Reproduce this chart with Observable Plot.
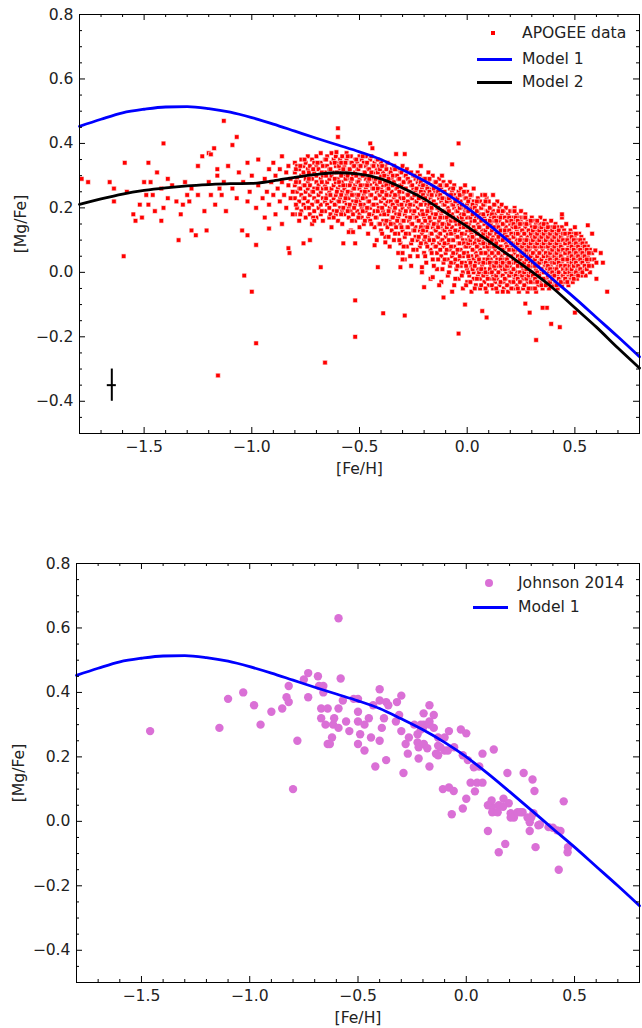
<!DOCTYPE html>
<html><head><meta charset="utf-8">
<script src="https://cdn.jsdelivr.net/npm/d3@7"></script>
<script src="https://cdn.jsdelivr.net/npm/@observablehq/plot@0.6"></script>
<style>
body{margin:0;background:#fff;font-family:"DejaVu Sans",sans-serif;}
#wrap{position:relative;width:642px;height:1028px;}
#wrap svg{display:block;}
.lt{position:absolute;font-size:15.6px;line-height:18px;color:#222;white-space:nowrap;}
.ll{position:absolute;height:3px;}
</style></head><body><div id="wrap"></div>
<script>
// ---------- tick values ----------
const xMajor = [-1.5, -1.0, -0.5, 0.0, 0.5];
const xMinor = [-1.7,-1.6,-1.4,-1.3,-1.2,-1.1,-0.9,-0.8,-0.7,-0.6,-0.4,-0.3,-0.2,-0.1,0.1,0.2,0.3,0.4,0.6,0.7];
const yMajor = [-0.4, -0.2, 0.0, 0.2, 0.4, 0.6, 0.8];
const yMinor = [-0.45,-0.35,-0.3,-0.25,-0.15,-0.1,-0.05,0.05,0.1,0.15,0.25,0.3,0.35,0.45,0.5,0.55,0.65,0.7,0.75];

// ---------- model curves ----------
const modelFeH   = [-1.8,-1.7,-1.6,-1.5,-1.4,-1.3,-1.2,-1.1,-1.0,-0.9,-0.8,-0.7,-0.6,-0.5,-0.4,-0.3,-0.2,-0.1,0.0,0.1,0.2,0.3,0.4,0.5,0.6,0.7,0.8];
const model1MgFe = [0.453,0.475,0.495,0.506,0.513,0.514,0.508,0.497,0.480,0.460,0.438,0.416,0.395,0.374,0.350,0.318,0.284,0.245,0.200,0.148,0.092,0.035,-0.023,-0.080,-0.140,-0.200,-0.262];
const model2MgFe = [0.211,0.228,0.243,0.254,0.262,0.268,0.272,0.275,0.276,0.284,0.295,0.304,0.309,0.305,0.290,0.262,0.228,0.185,0.142,0.097,0.050,0.002,-0.050,-0.110,-0.170,-0.235,-0.297];

// ---------- typical error bar ----------
const errFeH = -1.65, errMgFe = -0.35, errDFeH = 0.021, errDMgFe = 0.05;

// ---------- APOGEE data: dense cloud, per [Fe/H] column (hundredths): [x, y1, y2, ...] ----------
const apogeeColumns = [
[-80,18,23,27,31,34],[-79,20,25,29,33],[-78,16,22,26,28,32],[-77,19,24,30,35],[-76,21,23,27,31,33],
[-75,17,20,25,29,34],[-74,22,26,28,32,36],[-73,18,24,27,30,33],[-72,15,21,25,29,35],[-71,19,23,26,31,34],
[-70,17,22,28,30,33,36],[-69,20,24,27,32],[-68,18,21,25,29,34,37],[-67,16,23,26,30,33],[-66,19,22,27,31,35],
[-65,21,24,28,33,36],[-64,17,20,25,29,32],[-63,14,22,26,30,34,37],[-62,19,23,27,31,35],[-61,18,21,24,28,33,36],
[-60,16,22,26,29,34],[-59,20,23,27,32,35],[-58,15,19,25,28,31,36],[-57,18,22,26,30,33],[-56,21,24,27,31,35,37],
[-55,17,20,23,29,32],[-54,13,19,25,28,34,36],[-53,18,22,26,30,33],[-52,16,21,24,27,31,35],[-51,19,23,28,32,34],
[-50,14,18,22,26,29,33,36],[-49,17,20,25,30,35],[-48,15,21,24,27,31,34],[-47,19,23,26,29,33,36],[-46,12,17,22,25,28,32],
[-45,16,20,24,27,30,35],[-44,18,21,26,29,33],[-43,14,19,23,28,31,34],[-42,10,17,21,25,27,32,35],[-41,15,20,24,29,33],
[-40,13,18,22,26,30,34],[-39,16,19,23,27,31],[-38,11,15,21,25,28,33],[-37,14,18,22,26,30,34],[-36,8,16,20,24,27,31],
[-35,13,17,21,25,29,32],[-34,10,15,19,23,28,33],[-33,14,18,22,26,30],[-32,6,12,17,21,24,29,32],[-31,9,15,19,23,27,31],
[-30,13,16,20,25,28,33],[-29,4,11,18,22,26,30],[-28,8,14,17,21,24,29,32],[-27,12,16,20,25,28],[-26,2,9,15,19,23,27,31],
[-25,7,13,18,21,26,30],[-24,11,14,17,22,25,29],[-23,5,10,16,20,24,28,31],[-22,8,13,18,21,27,30],[-21,0,12,15,19,23,26],
[-20,6,10,14,17,22,25,29],[-19,3,9,13,18,21,27],[-18,11,15,20,24,28,31],[-17,-2,7,12,16,19,23,26],[-16,4,9,14,18,22,27,30],
[-15,8,13,17,21,25,28],[-14,1,6,11,15,20,24],[-13,9,12,16,19,23,27,29],[-12,-3,5,10,14,18,22,26],[-11,3,8,13,17,21,25,28],
[-10,6,11,15,19,23,27],[-9,-1,4,9,12,16,20,24],[-8,2,7,13,17,22,26,28],[-7,5,10,14,18,21,25],[-6,-4,3,8,12,16,20,24,27],
[-5,1,6,11,15,19,23],[-4,-2,4,9,13,17,21,25],[-3,2,7,11,14,18,22,26],[-2,-5,0,5,10,16,20,24],[-1,3,8,12,15,19,23,27],
[0,-3,1,6,10,13,17,21,25],[1,-1,4,8,11,15,19,23],[2,-6,2,5,9,12,16,20,24],[3,-2,0,4,7,11,14,18,22,26],[4,-4,3,6,10,13,17,21],
[5,-1,1,5,8,12,15,19,23],[6,-5,-2,3,7,9,14,18,22],[7,0,2,6,10,13,16,20,24],[8,-3,1,4,8,11,15,17,21],[9,-6,-1,3,6,9,12,16,19,23],
[10,-4,0,5,7,10,14,18,22],[11,-2,2,4,8,12,15,17,20],[12,-5,-1,3,6,9,11,16,19,24],[13,-3,1,5,7,10,13,18,21],[14,-6,-2,2,4,8,12,15,17,22],
[15,-4,0,3,6,10,14,16,20],[16,-1,1,5,8,11,13,18,21],[17,-5,-3,2,4,7,10,15,19],[18,-2,0,3,6,9,12,14,17,20],[19,-6,-4,1,5,8,11,16,18],
[20,-3,0,2,7,10,13,15,19],[21,-1,3,5,8,12,14,17],[22,-5,-2,1,4,6,9,11,16,20],[23,-4,0,3,7,10,13,15,18],[24,-6,-1,2,5,8,12,14,17],
[25,-3,0,4,6,9,11,16,19],[26,-5,-2,1,3,7,10,13,15],[27,-4,-1,2,5,8,12,14,18],[28,-6,-3,0,4,6,9,11,16],[29,-2,1,3,7,10,13,15],
[30,-5,-1,2,5,8,11,14,17],[31,-3,0,4,6,9,12,16],[32,-6,-2,1,3,7,10,13,15],[33,-4,-1,2,5,8,11,14],[34,-3,0,4,6,9,12,15,17],
[35,-5,-2,1,3,7,10,13],[36,-4,0,2,5,8,11,14,16],[37,-2,1,4,6,9,12,15],[38,-5,-3,0,3,7,10,13],[39,-1,2,5,8,11,14,16],
[40,-4,-2,1,4,6,9,12],[41,-3,0,3,7,10,13,15],[42,-5,-1,2,5,8,11,14],[43,-2,0,4,6,9,12],[44,-4,-1,3,5,8,11,14,17],
[45,-3,1,4,7,10,13],[46,-2,0,2,6,9,12,15],[47,-4,-1,3,5,8,11],[48,-2,1,4,7,10,13],[49,-3,0,2,6,9,12],
[50,-1,3,5,8,11,14],[51,-2,1,4,7,10],[52,0,2,6,9,12],[53,-1,3,5,8,11],[54,1,4,7,10],
[55,-1,2,6,9],[56,3,5,8],[57,0,4,7],[58,2,6],[59,4],[60,3]
];
// second pass of the cloud, stars lying between the columns above
const apogeeColumnsB = [
[-79.5,21,28,32],[-77.5,18,26,33],[-75.5,23,27,35],[-73.5,20,29,31],[-71.5,17,25,32],[-69.5,22,26,34],[-67.5,19,28,31],[-65.5,23,26,30,35],[-63.5,18,24,32],[-61.5,21,29,34],
[-60.5,19,25,31],[-59.5,22,28,33],[-58.5,18,24,30,34],[-57.5,20,27,32],[-56.5,23,29,34],[-55.5,19,25,30,36],[-54.5,21,27,32],[-53.5,16,24,29,34],[-52.5,20,26,33],[-51.5,22,30,35],
[-50.5,17,24,28,32],[-49.5,21,27,33],[-48.5,19,23,30,36],[-47.5,16,25,31],[-46.5,20,27,34],[-45.5,18,22,29,32],[-44.5,15,24,31,36],[-43.5,21,26,33],[-42.5,17,23,29],[-41.5,19,26,31,35],
[-40.5,15,24,28,32],[-39.5,12,20,25,33],[-38.5,18,23,30],[-37.5,16,24,27,32],[-36.5,11,19,26,29],[-35.5,15,22,31],[-34.5,17,21,27,30],[-33.5,12,20,24,32],[-32.5,16,22,26,30],[-31.5,10,18,25,29],
[-30.5,14,21,27,31],[-29.5,8,16,23,28],[-28.5,12,19,26,30],[-27.5,14,22,24,29],[-26.5,5,17,21,28],[-25.5,10,15,23,27],[-24.5,13,19,24,30],[-23.5,7,17,22,26],[-22.5,11,16,23,29],[-21.5,9,14,21,25,28],
[-20.5,13,18,24,27],[-19.5,5,11,16,23,29],[-18.5,8,14,19,26],[-17.5,10,17,21,25,29],[-16.5,6,12,20,24],[-15.5,2,10,15,22,26],[-14.5,8,13,18,21,28],[-13.5,4,11,14,20,25],[-12.5,7,12,17,24,27],[-11.5,1,10,15,19,23],
[-10.5,4,9,13,21,25],[-9.5,7,14,17,22,27],[-8.5,0,10,15,19,23],[-7.5,3,8,12,16,24],[-6.5,6,10,17,21,26],[-5.5,-2,4,13,16,22],[-4.5,2,7,11,19,23],[-3.5,5,9,15,20,24],[-2.5,-1,3,12,17,21],[-1.5,6,9,14,18,25],
[-0.5,-4,2,8,15,20,23],[0.5,0,5,9,14,19,22],[1.5,-3,3,10,13,17,24],[2.5,1,7,11,18,21],[3.5,-5,2,9,16,20],[4.5,-2,5,8,12,19,22],[5.5,0,4,10,14,17],[6.5,-4,1,6,11,16,20],[7.5,-1,3,9,12,18,21],[8.5,-5,0,6,13,16,22],
[9.5,-2,4,8,11,14,19],[10.5,1,3,9,12,16,20],[11.5,-4,0,6,10,13,18],[12.5,-2,2,8,14,17,21],[13.5,-5,-1,3,9,12,16],[14.5,0,6,11,14,19],[15.5,-3,2,4,8,13,17],[16.5,-6,-1,3,7,10,15,19],[17.5,-2,1,6,12,13,17],[18.5,-4,2,4,8,11,16],
[19.5,-1,3,7,10,13,17],[20.5,-5,0,5,9,12,16],[21.5,-3,1,4,7,11,15,19],[22.5,-1,3,8,12,14,17],[23.5,-5,-2,2,5,9,12,16],[24.5,-3,0,4,7,10,15],[25.5,-1,2,5,8,13,17],[26.5,-4,0,3,6,9,12,17],[27.5,-2,1,4,7,10,15],[28.5,-5,-1,2,5,8,13],
[29.5,-3,0,5,9,12,16],[30.5,-1,3,6,10,13],[31.5,-5,-2,2,4,8,11,14],[32.5,-3,0,5,9,12,16],[33.5,-1,3,6,10,13],[34.5,-4,1,4,8,11,14],[35.5,-2,0,5,9,12,15],[36.5,-4,3,6,10,13],[37.5,-1,2,5,8,11,14],[38.5,-3,1,4,6,9,12],
[39.5,-2,0,3,7,10,13],[40.5,-1,3,5,8,11,14],[41.5,-4,1,4,6,9,12],[42.5,-2,0,3,7,10,13],[43.5,-3,2,5,8,11],[44.5,-1,1,4,7,10,12],[45.5,-2,0,2,6,9,12],[46.5,-3,1,4,7,10],[47.5,0,2,6,9,12],[48.5,-1,1,3,5,8,11],
[49.5,-2,2,4,7,10],[50.5,0,3,6,9,12],[51.5,-1,2,5,8],[52.5,1,4,7,10],[53.5,0,3,6,9],[54.5,2,5,8],[55.5,1,4,7],[56.5,2,6]
];

// ---------- APOGEE data: sparse stars and outliers [FeH, MgFe] ----------
const apogeeSparse = [
[-1.79,0.29],[-1.76,0.28],[-1.66,0.28],[-1.64,0.26],[-1.59,0.34],[-1.58,0.25],[-1.64,0.22],[-1.595,0.05],[-1.55,0.18],[-1.54,0.16],
[-1.51,0.17],[-1.52,0.21],[-1.50,0.28],[-1.48,0.34],[-1.49,0.24],[-1.47,0.28],[-1.46,0.24],[-1.44,0.31],[-1.48,0.21],[-1.45,0.19],
[-1.42,0.16],[-1.41,0.40],[-1.41,0.20],[-1.42,0.26],[-1.39,0.23],[-1.39,0.29],[-1.37,0.27],[-1.34,0.10],[-1.35,0.22],[-1.33,0.18],
[-1.32,0.21],[-1.31,0.28],[-1.30,0.24],[-1.28,0.13],[-1.26,0.115],[-1.29,0.22],[-1.28,0.26],[-1.25,0.33],[-1.25,0.24],[-1.23,0.36],
[-1.22,0.19],[-1.21,0.13],[-1.20,0.37],[-1.20,0.28],[-1.19,0.24],[-1.175,0.385],[-1.19,0.366],[-1.17,0.21],[-1.16,0.30],[-1.16,0.32],
[-1.15,0.26],[-1.14,0.24],[-1.13,0.47],[-1.13,0.28],[-1.12,0.19],[-1.11,0.33],[-1.09,0.395],[-1.09,0.26],[-1.07,0.42],[-1.07,0.23],
[-1.06,0.31],[-1.045,0.13],[-1.04,0.28],[-1.02,0.115],[-1.02,0.22],[-1.02,0.34],[-1.01,0.25],[-0.98,0.085],[-1.0,0.30],[-0.98,0.20],
[-0.97,0.27],[-0.97,0.35],[-0.95,0.23],[-0.94,0.29],[-0.94,0.17],[-0.93,0.25],[-0.92,0.32],[-0.92,0.21],[-0.92,0.136],[-0.91,0.28],
[-0.90,0.34],[-0.90,0.24],[-0.89,0.30],[-0.89,0.18],[-0.88,0.26],[-0.87,0.32],[-0.87,0.22],[-0.86,0.36],[-0.86,0.28],[-0.86,0.15],
[-0.85,0.24],[-0.84,0.31],[-0.84,0.20],[-0.83,0.27],[-0.83,0.33],[-0.82,0.23],[-0.82,0.29],[-0.81,0.18],[-0.81,0.25],[-0.83,0.075],
[-0.825,0.06],[-0.76,0.09],[-0.73,0.10],[-0.71,0.16],[-0.62,0.17],
[-1.035,-0.01],[-1.0,-0.06],[-0.98,-0.22],[-1.157,-0.32],[-0.68,0.016],[-0.66,-0.28],[-0.52,-0.087],[-0.52,-0.20],[-0.415,0.016],[-0.39,-0.127],
[-0.29,-0.134],[-0.04,-0.19],[0.09,-0.14],[0.07,-0.12],[-0.01,-0.10],[0.32,-0.21],[0.39,-0.16],[0.43,-0.17],[0.50,-0.125],[0.65,-0.06],
[0.63,0.03],[0.60,-0.02],[0.29,-0.125],[0.37,-0.11],[0.27,-0.097],[0.35,-0.11],[0.595,0.068],[0.56,0.146],[0.44,0.18],[0.58,0.12],[0.62,0.06],
[-0.575,0.09],[-0.52,0.09],[-0.55,0.125],[-0.53,0.125],[-0.43,0.084],[-0.38,0.093],[-0.30,0.06],[-0.30,0.04],[-0.31,0.016],[-0.25,0.07],
[-0.21,0.016],[-0.20,-0.046],[-0.16,-0.015],[-0.11,-0.078],[-0.13,-0.04],[-0.07,-0.06],
[-0.60,0.447],[-0.60,0.42],[-0.607,0.373],[-0.04,0.40],[-0.07,0.335],[-0.45,0.40],[-0.44,0.385],[-0.33,0.367],[-0.29,0.367],[-0.215,0.33],
[-0.117,0.30],[0.083,0.24],[0.22,0.19],[0.27,0.17]
];

// ---------- Johnson 2014 [FeH, MgFe] ----------
const johnson2014 = [
[-1.46,0.28],[-1.14,0.29],[-1.10,0.38],[-1.03,0.40],[-0.98,0.36],[-0.95,0.30],[-0.90,0.34],[-0.85,0.35],[-0.83,0.385],[-0.82,0.37],
[-0.82,0.42],[-0.78,0.25],[-0.80,0.10],[-0.75,0.44],[-0.73,0.46],[-0.73,0.385],[-0.685,0.45],[-0.68,0.42],[-0.66,0.42],[-0.66,0.40],
[-0.67,0.35],[-0.64,0.35],[-0.67,0.32],[-0.65,0.30],[-0.615,0.30],[-0.61,0.32],[-0.62,0.26],[-0.64,0.24],[-0.63,0.24],
[-0.59,0.63],[-0.58,0.443],[-0.57,0.375],[-0.59,0.35],[-0.59,0.29],[-0.555,0.31],[-0.54,0.28],[-0.52,0.38],[-0.50,0.38],[-0.50,0.34],
[-0.50,0.31],[-0.49,0.27],[-0.50,0.24],[-0.47,0.22],[-0.47,0.30],[-0.44,0.26],[-0.43,0.36],[-0.42,0.17],[-0.40,0.41],[-0.40,0.375],
[-0.40,0.25],[-0.39,0.29],[-0.38,0.32],[-0.37,0.37],[-0.36,0.36],[-0.37,0.19],[-0.32,0.37],[-0.30,0.39],[-0.325,0.31],[-0.30,0.28],
[-0.29,0.15],[-0.27,0.21],[-0.265,0.26],[-0.24,0.30],[-0.225,0.27],[-0.225,0.245],[-0.22,0.23],[-0.196,0.24],[-0.18,0.227],[-0.21,0.30],
[-0.196,0.30],[-0.17,0.30],[-0.15,0.33],[-0.17,0.36],[-0.197,0.335],[-0.15,0.29],[-0.17,0.31],[-0.22,0.195],[-0.17,0.17],[-0.13,0.235],
[-0.13,0.26],[-0.10,0.26],[-0.10,0.22],[-0.085,0.22],[-0.08,0.28],[-0.13,0.205],[-0.14,0.21],[-0.12,0.23],[-0.056,0.23],[-0.025,0.285],
[0.0,0.273],[-0.016,0.205],[0.007,0.19],[0.035,0.168],[0.06,0.17],[0.075,0.21],[0.127,0.223],
[0.02,0.12],[0.05,0.12],[0.075,0.12],[-0.108,0.10],[-0.08,0.105],[-0.058,0.094],[-0.067,0.022],[-0.016,0.04],[0.0,0.07],[0.04,0.093],
[0.19,0.15],[0.265,0.15],[0.306,0.13],[0.315,0.094],[0.45,0.062],[0.10,-0.03],[0.18,-0.07],[0.117,0.065],[0.12,0.045],[0.15,0.05],
[0.172,0.07],[0.196,0.056],[0.205,0.025],[0.22,0.012],[0.237,0.028],[0.26,0.028],[0.283,0.012],[0.293,-0.003],[0.31,0.025],[0.333,-0.012],
[0.293,-0.03],[0.38,-0.018],[0.40,-0.02],[0.435,-0.03],[0.32,-0.08],[0.10,0.05],[0.12,0.028],[0.145,0.028],[0.17,0.045],[0.205,0.012],
[0.30,0.012],[0.15,-0.096],[0.42,-0.028],[0.468,-0.096],[0.47,-0.08],[0.427,-0.15],[0.34,-0.01],[0.25,0.028],[-0.20,0.29],[-0.21,0.285],
[-0.28,0.24],[-0.31,0.33],[-0.45,0.32]
];

// ---------- build tables ----------
const apogee = [];
for (const [x, ...ys] of apogeeColumns) for (const y of ys) apogee.push({feh: x / 100, mgfe: y / 100});
for (const [x, ...ys] of apogeeColumnsB) for (const y of ys) apogee.push({feh: x / 100, mgfe: y / 100});
for (const [x, y] of apogeeSparse) apogee.push({feh: x, mgfe: y});
const johnson = johnson2014.map(([x, y]) => ({feh: x, mgfe: y}));
const model1 = modelFeH.map((x, i) => ({feh: x, mgfe: model1MgFe[i]}));
const model2 = modelFeH.map((x, i) => ({feh: x, mgfe: model2MgFe[i]}));
const err = [{feh: errFeH, mgfe: errMgFe, dx: errDFeH, dy: errDMgFe}];

const W = 642;
const FS = 15.6;
const fmt = d3.format(".1f");

function frameMarks(pw, ph, ylabDx) {
  const k = "#000";
  return [
    Plot.ruleY(yMajor, {stroke: k, insetRight: pw - 6}),
    Plot.ruleY(yMajor, {stroke: k, insetLeft: pw - 6}),
    Plot.ruleY(yMinor, {stroke: k, insetRight: pw - 3}),
    Plot.ruleY(yMinor, {stroke: k, insetLeft: pw - 3}),
    Plot.ruleX(xMajor, {stroke: k, insetTop: ph - 6}),
    Plot.ruleX(xMajor, {stroke: k, insetBottom: ph - 6}),
    Plot.ruleX(xMinor, {stroke: k, insetTop: ph - 3}),
    Plot.ruleX(xMinor, {stroke: k, insetBottom: ph - 3}),
    Plot.frame({stroke: k, strokeWidth: 1}),
    Plot.axisY({ticks: yMajor, tickSize: 0, tickPadding: 6, tickFormat: fmt, label: null, fontSize: FS}),
    Plot.axisX({ticks: xMajor, tickSize: 0, tickPadding: 7, tickFormat: fmt, label: null, fontSize: FS}),
    Plot.text(["[Fe/H]"], {text: d => d, frameAnchor: "bottom", dy: 35, textAnchor: "middle", lineAnchor: "middle", fontSize: FS}),
    Plot.text(["[Mg/Fe]"], {text: d => d, frameAnchor: "left", dx: ylabDx, rotate: -90, textAnchor: "middle", lineAnchor: "middle", fontSize: FS})
  ];
}

const style = {fontFamily: "'DejaVu Sans', sans-serif", fontSize: FS + "px", color: "#222", background: "#fff", overflow: "visible"};

// top panel
const t = {h: 500, mt: 14, mb: 67, ml: 79, mr: 3};
const topPlot = Plot.plot({
  width: W, height: t.h, marginTop: t.mt, marginBottom: t.mb, marginLeft: t.ml, marginRight: t.mr,
  x: {domain: [-1.8, 0.8]}, y: {domain: [-0.5, 0.8]}, style,
  marks: [
    Plot.dot(apogee, {x: "feh", y: "mgfe", symbol: "square", r: 2.6, fill: "#ff0000", stroke: "#fff", strokeWidth: 0.6}),
    Plot.line(model1, {x: "feh", y: "mgfe", stroke: "#0000ff", strokeWidth: 2.8, curve: "monotone-x"}),
    Plot.line(model2, {x: "feh", y: "mgfe", stroke: "#000", strokeWidth: 2.8, curve: "monotone-x"}),
    Plot.ruleX(err, {x: "feh", y1: d => d.mgfe - d.dy, y2: d => d.mgfe + d.dy, stroke: "#000", strokeWidth: 2}),
    Plot.ruleY(err, {y: "mgfe", x1: d => d.feh - d.dx, x2: d => d.feh + d.dx, stroke: "#000", strokeWidth: 2}),
    ...frameMarks(W - t.ml - t.mr, t.h - t.mt - t.mb, -59)
  ]
});

// bottom panel
const b = {h: 528, mt: 63, mb: 46, ml: 76, mr: 3};
const botPlot = Plot.plot({
  width: W, height: b.h, marginTop: b.mt, marginBottom: b.mb, marginLeft: b.ml, marginRight: b.mr,
  x: {domain: [-1.8, 0.8]}, y: {domain: [-0.5, 0.8]}, style,
  marks: [
    Plot.dot(johnson, {x: "feh", y: "mgfe", r: 4.2, fill: "#da70d6"}),
    Plot.line(model1, {x: "feh", y: "mgfe", stroke: "#0000ff", strokeWidth: 2.8, curve: "monotone-x"}),
    ...frameMarks(W - b.ml - b.mr, b.h - b.mt - b.mb, -58)
  ]
});

const wrap = document.getElementById("wrap");
wrap.appendChild(topPlot);
wrap.appendChild(botPlot);

// legends (HTML overlay)
function el(cls, css, txt) {
  const d = document.createElement("div");
  d.className = cls; d.style.cssText = css; if (txt) d.textContent = txt;
  wrap.appendChild(d); return d;
}
// top legend
el("", "position:absolute;left:491px;top:31px;width:4px;height:4px;background:#ff0000;");
el("lt", "left:522px;top:24px;", "APOGEE data");
el("ll", "left:477px;top:57.5px;width:35px;background:#0000ff;");
el("lt", "left:522px;top:50px;", "Model 1");
el("ll", "left:477px;top:80.5px;width:35px;background:#000;");
el("lt", "left:522px;top:73px;", "Model 2");
// bottom legend
el("", "position:absolute;left:485px;top:579px;width:8px;height:8px;border-radius:50%;background:#da70d6;");
el("lt", "left:518px;top:574px;", "Johnson 2014");
el("ll", "left:473px;top:605.5px;width:35px;background:#0000ff;");
el("lt", "left:518px;top:598px;", "Model 1");
</script>
</body></html>
